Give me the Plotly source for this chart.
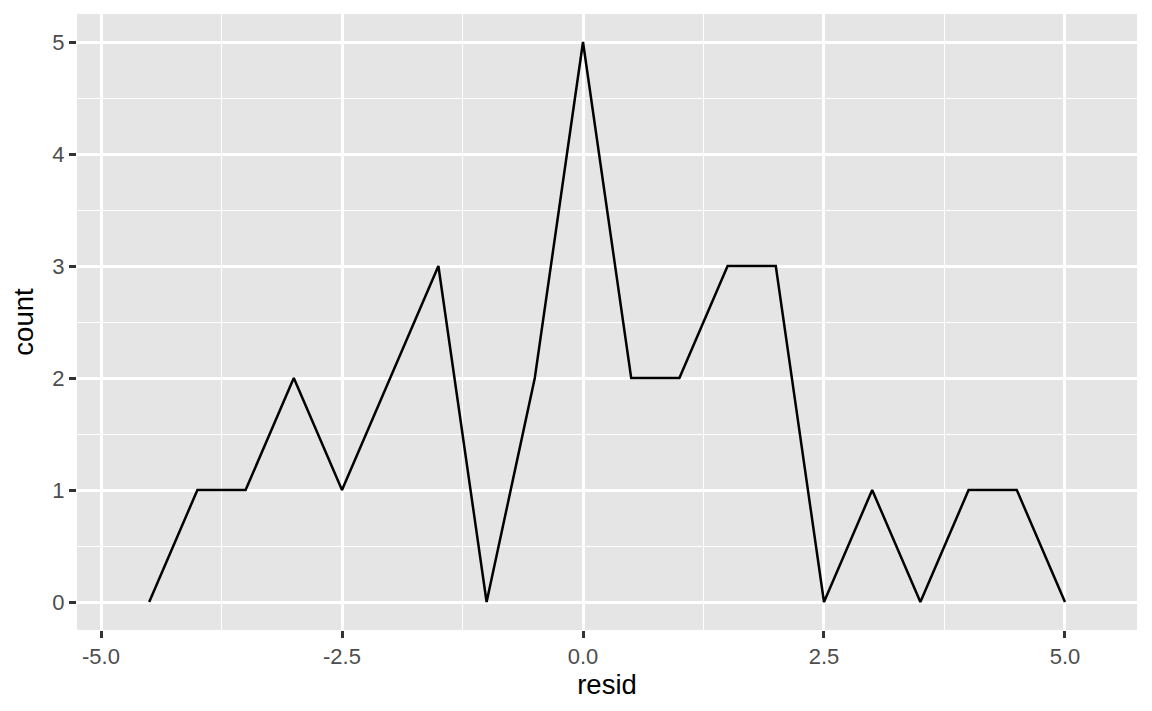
import plotly.graph_objects as go

# frequency polygon of residuals
resid = [-4.5, -4.0, -3.5, -3.0, -2.5, -2.0, -1.5, -1.0, -0.5, 0.0,
         0.5, 1.0, 1.5, 2.0, 2.5, 3.0, 3.5, 4.0, 4.5, 5.0]
count = [0, 1, 1, 2, 1, 2, 3, 0, 2, 5,
         2, 2, 3, 3, 0, 1, 0, 1, 1, 0]

x_ticks = [-5.0, -2.5, 0.0, 2.5, 5.0]
x_labels = ["-5.0", "-2.5", "0.0", "2.5", "5.0"]
y_ticks = [0, 1, 2, 3, 4, 5]

FONT = "Liberation Sans, Arial, sans-serif"

fig = go.Figure()
fig.add_trace(go.Scatter(x=resid, y=count, mode="lines",
                         line=dict(color="black", width=2.5),
                         showlegend=False, hoverinfo="x+y"))

axis_common = dict(showgrid=True, gridcolor="white", gridwidth=2.8,
                   zeroline=False, showline=False,
                   ticks="outside", ticklen=7, tickwidth=2.5, tickcolor="#333333",
                   tickfont=dict(family=FONT, size=22, color="#4D4D4D"),
                   minor=dict(showgrid=True, gridcolor="white", gridwidth=1.4, ticks=""))

fig.update_xaxes(range=[-5.249, 5.747], tickvals=x_ticks, ticktext=x_labels,
                 minor_tickvals=[-3.75, -1.25, 1.25, 3.75],
                 title=dict(text="resid", standoff=6,
                            font=dict(family=FONT, size=27.5, color="black")),
                 **axis_common)
fig.update_yaxes(range=[-0.25, 5.25], tickvals=y_ticks,
                 minor_tickvals=[0.5, 1.5, 2.5, 3.5, 4.5],
                 title=dict(text="count", standoff=12,
                            font=dict(family=FONT, size=27.5, color="black")),
                 **axis_common)

# page body has an 8px margin, so the figure is shrunk to fit the window
fig.update_layout(width=1144, height=703,
                  margin=dict(l=69, r=15, t=6, b=81),
                  plot_bgcolor="#E5E5E5", paper_bgcolor="white")

fig.write_html("out.html")
